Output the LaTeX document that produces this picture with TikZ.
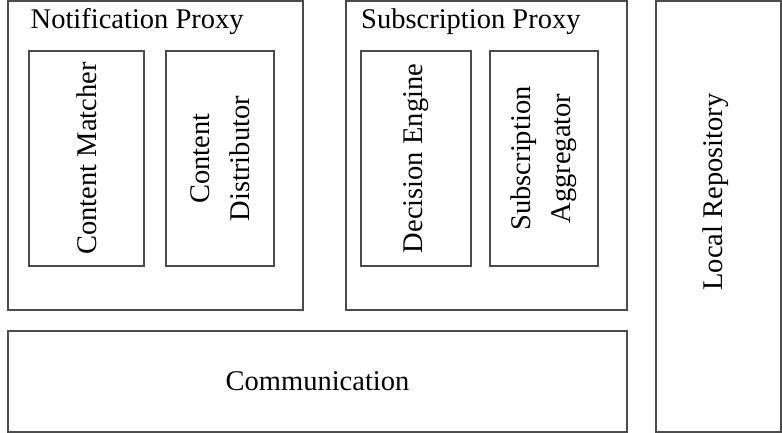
\documentclass[tikz,border=0pt]{standalone}
\usepackage{fontspec}
\setmainfont{Liberation Serif}

\begin{document}
\begin{tikzpicture}[x=1pt, y=1pt,
	box/.style={draw=black!70, line width=1.1pt, inner sep=0pt, align=center},
	every node/.append style={font=\fontsize{28.5}{40}\selectfont}]
\useasboundingbox (0,0) rectangle (782,433);

% the two proxies, the repository and the communication layer
\node[box, minimum width=295pt, minimum height=309pt] (np) at (155.5,277.5) {};
\node[box, minimum width=281pt, minimum height=309pt] (sp) at (486.5,277.5) {};
\node[box, minimum width=125pt, minimum height=431pt] (lr) at (718.5,216.5) {};
\node[box, minimum width=619pt, minimum height=101pt] (comm) at (317.5,51.5) {Communication};

\node[anchor=base west, inner sep=0pt] (nptitle) at (30.5,404) {Notification Proxy};
\node[anchor=base west, inner sep=0pt] (sptitle) at (361,404) {Subscription Proxy};
\node[rotate=90] (lrtext) at (716,241) {Local Repository};

% components inside the proxies
\foreach \n/\cx/\w/\t in {cm/86.5/115/{Content Matcher}, cd/220/108/{Content\\Distributor},
		de/416/110/{Decision Engine}, sa/544/108/{Subscription\\Aggregator}}
	\node[box, rotate=90, minimum width=215pt, minimum height=\w pt] (\n) at (\cx,274.5) {\t};
\end{tikzpicture}
\end{document}
